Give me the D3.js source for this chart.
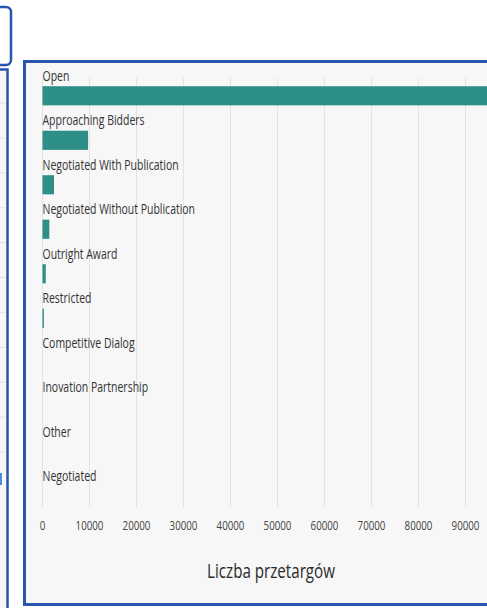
<!DOCTYPE html>
<html>
<head>
<meta charset="utf-8">
<script src="https://cdn.jsdelivr.net/npm/d3@7"></script>
<style>
  body { margin: 0; background: #fff; }
  text { font-family: "Open Sans", sans-serif; }
</style>
</head>
<body>
<div id="chart"></div>
<script>
var width = 487;
var height = 608;

// procedure types and number of tenders
var categories = ["Open", "Approaching Bidders", "Negotiated With Publication",
  "Negotiated Without Publication", "Outright Award", "Restricted",
  "Competitive Dialog", "Inovation Partnership", "Other", "Negotiated"];
var counts = [99000, 9700, 2450, 1450, 700, 300, 0, 0, 0, 0];

var xTicks = [0, 10000, 20000, 30000, 40000, 50000, 60000, 70000, 80000, 90000];
var axisTitle = "Liczba przetargów";

var blue = "#2856ad";
var barColor = "#2e8e88";

var svg = d3.select("#chart")
  .append("svg")
  .attr("width", width)
  .attr("height", height);

// ---- neighbouring dashboard panels (cut off on the left) ----
svg.append("rect")
  .attr("x", -20).attr("y", 7)
  .attr("width", 31).attr("height", 58)
  .attr("rx", 5)
  .attr("fill", "#fff")
  .attr("stroke", blue).attr("stroke-width", 2.5);

svg.append("rect")
  .attr("x", -20).attr("y", 69.5)
  .attr("width", 27.5).attr("height", 560)
  .attr("fill", "#f7f7f7")
  .attr("stroke", blue).attr("stroke-width", 2.5);

var rows = d3.range(11).map(function(i) { return 103 + i * 34.9; });
svg.append("g")
  .selectAll("line")
  .data(rows)
  .enter()
  .append("line")
  .attr("x1", 0).attr("x2", 6)
  .attr("y1", function(d) { return d; })
  .attr("y2", function(d) { return d; })
  .attr("stroke", "#e2e2e2");

svg.append("rect")
  .attr("x", 0).attr("y", 473)
  .attr("width", 2).attr("height", 12)
  .attr("fill", "#4a90d9");

// ---- main panel ----
svg.append("rect")
  .attr("x", 24.5).attr("y", 61.5)
  .attr("width", 500).attr("height", 543)
  .attr("fill", "#f7f7f7")
  .attr("stroke", blue).attr("stroke-width", 3);

var xScale = d3.scaleLinear()
  .domain([0, 100000])
  .range([42.5, 512.5]);

var yScale = d3.scaleBand()
  .domain(categories)
  .range([84, 508])
  .paddingInner(0.57)
  .paddingOuter(0.05);

var plotTop = 78;
var plotBottom = 507;

// vertical grid lines
svg.append("g")
  .selectAll("line")
  .data(xTicks)
  .enter()
  .append("line")
  .attr("x1", function(d) { return xScale(d); })
  .attr("x2", function(d) { return xScale(d); })
  .attr("y1", plotTop)
  .attr("y2", plotBottom)
  .attr("stroke", "#e3e3e3")
  .attr("stroke-width", 1);

// bars
svg.append("g")
  .selectAll("rect")
  .data(categories)
  .enter()
  .append("rect")
  .attr("x", xScale(0))
  .attr("y", function(d) { return yScale(d); })
  .attr("width", function(d, i) { return xScale(counts[i]) - xScale(0); })
  .attr("height", yScale.bandwidth())
  .attr("fill", barColor);

// category labels sitting above each bar (narrow text, as in the screenshot)
svg.append("g")
  .selectAll("g")
  .data(categories)
  .enter()
  .append("g")
  .attr("transform", function(d) {
    return "translate(" + xScale(0) + "," + (yScale(d) - 5.5) + ") scale(0.77,1)";
  })
  .append("text")
  .attr("font-size", "13.6px")
  .attr("fill", "#333")
  .text(function(d) { return d; });

// x tick labels
svg.append("g")
  .selectAll("g")
  .data(xTicks)
  .enter()
  .append("g")
  .attr("transform", function(d) {
    return "translate(" + xScale(d) + ",529.5) scale(0.75,1)";
  })
  .append("text")
  .attr("text-anchor", "middle")
  .attr("font-size", "13px")
  .attr("fill", "#444")
  .text(function(d) { return d; });

// axis title
svg.append("g")
  .attr("transform", "translate(271,578) scale(0.74,1)")
  .append("text")
  .attr("text-anchor", "middle")
  .attr("font-size", "20.5px")
  .attr("fill", "#2a2a2a")
  .text(axisTitle);
</script>
</body>
</html>
